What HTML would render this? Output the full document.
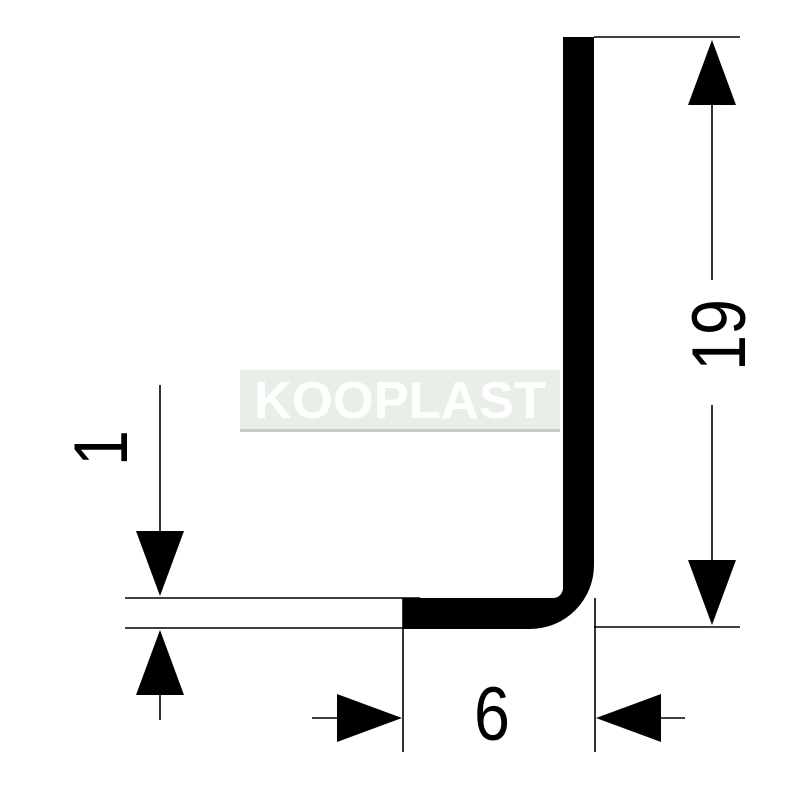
<!DOCTYPE html>
<html><head><style>body{margin:0;background:#fff}</style></head><body>
<svg width="800" height="800" viewBox="0 0 800 800" xmlns="http://www.w3.org/2000/svg">
<rect x="240" y="370" width="320" height="61" fill="#e7efe7"/>
<rect x="240" y="429" width="320" height="3" fill="#c8cac8"/>
<text x="400" y="418" font-family="Liberation Sans, sans-serif" font-size="52" font-weight="bold" fill="#fff" text-anchor="middle" textLength="292" lengthAdjust="spacingAndGlyphs">KOOPLAST</text>
<path d="M563 37 H594 V565 A64 64 0 0 1 530 629 H403 V598 H553 A10 10 0 0 0 563 588 Z" fill="#000"/>
<g stroke="#000" stroke-width="1.6" fill="none">
<line x1="594" y1="37" x2="740" y2="37"/>
<line x1="594" y1="627" x2="740" y2="627"/>
<line x1="712" y1="100" x2="712" y2="280"/>
<line x1="712" y1="405" x2="712" y2="565"/>
<line x1="125" y1="598" x2="420" y2="598"/>
<line x1="125" y1="628" x2="403" y2="628"/>
<line x1="160" y1="385" x2="160" y2="535"/>
<line x1="160" y1="690" x2="160" y2="720"/>
<line x1="403" y1="598" x2="403" y2="752"/>
<line x1="595" y1="598" x2="595" y2="752"/>
<line x1="312" y1="718" x2="345" y2="718"/>
<line x1="650" y1="718" x2="685" y2="718"/>
</g>
<polygon points="712,40 688,105 736,105" fill="#000"/>
<polygon points="712,625 688,560 736,560" fill="#000"/>
<polygon points="160,596 136,531 184,531" fill="#000"/>
<polygon points="160,630 136,695 184,695" fill="#000"/>
<polygon points="402,718 337,694 337,742" fill="#000"/>
<polygon points="596,718 661,694 661,742" fill="#000"/>
<text x="0" y="0" transform="translate(745,335) rotate(-90) scale(0.85,1)" font-family="Liberation Sans, sans-serif" font-size="76" text-anchor="middle">19</text>
<text x="0" y="0" transform="translate(127,448) rotate(-90) scale(0.85,1)" font-family="Liberation Sans, sans-serif" font-size="76" text-anchor="middle">1</text>
<text x="0" y="0" transform="translate(492,740) scale(0.85,1)" font-family="Liberation Sans, sans-serif" font-size="76" text-anchor="middle">6</text>
</svg>
</body></html>
